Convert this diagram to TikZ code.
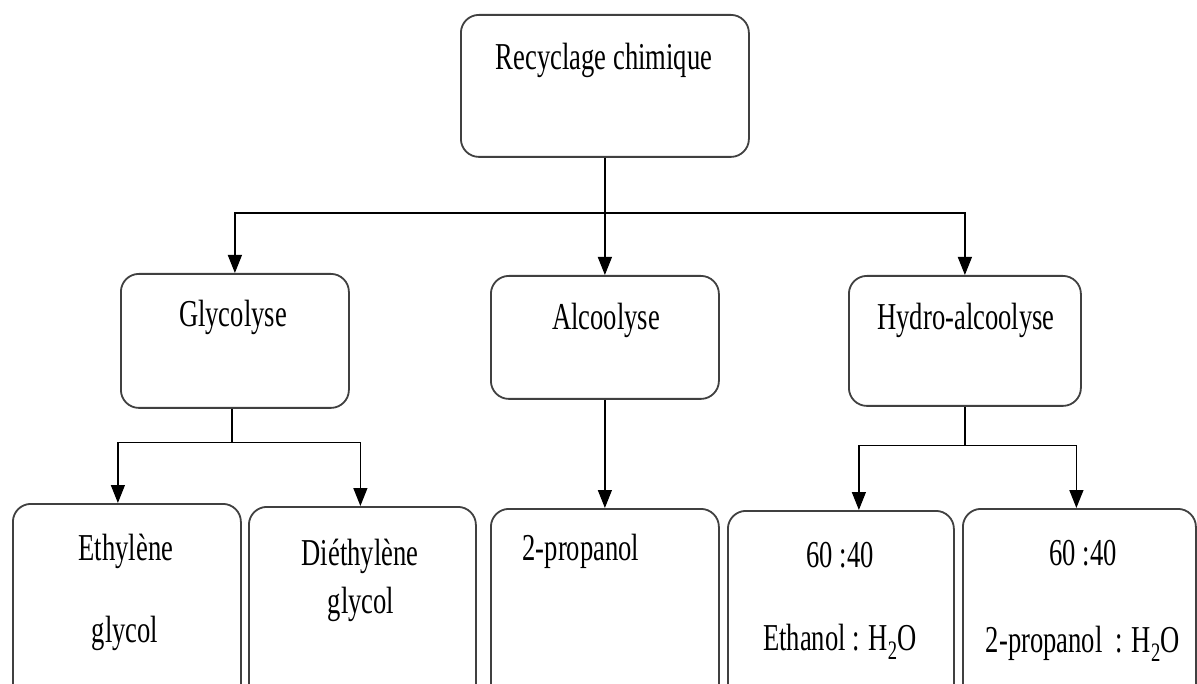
\documentclass[tikz,border=0pt]{standalone}
\usepackage{fontspec}
\setmainfont[FakeStretch=0.7]{Liberation Serif}
\usetikzlibrary{arrows.meta,calc}
\begin{document}
\begin{tikzpicture}[x=1pt,y=-1pt,
  box/.style={draw=black!75, line width=1.8pt, rounded corners=18pt, inner sep=0pt, anchor=north west},
  lbl/.style={anchor=base, inner sep=0pt, font=\fontsize{38}{45}\selectfont},
  conn/.style={line width=1.4pt, draw=black},
  arr/.style={conn, -{Triangle[length=18pt,width=14pt]}}]
\useasboundingbox (0,0) rectangle (1197,684);
\clip (0,0) rectangle (1197,684);
% boxes
\node[box, minimum width=288pt, minimum height=142pt] (top) at (460,14) {};
\node[box, minimum width=228pt, minimum height=134pt] (glyc) at (120,273) {};
\node[box, minimum width=228pt, minimum height=123pt] (alc) at (490,275) {};
\node[box, minimum width=232pt, minimum height=130pt] (hydro) at (848,275) {};
\node[box, minimum width=228pt, minimum height=220pt] (eth) at (12,503) {};
\node[box, minimum width=227pt, minimum height=220pt] (deg) at (248,506) {};
\node[box, minimum width=228pt, minimum height=220pt] (prop) at (490,508) {};
\node[box, minimum width=226pt, minimum height=220pt] (etw) at (727,510) {};
\node[box, minimum width=233pt, minimum height=220pt] (prw) at (962,508) {};
% labels
\node[lbl] (ttop) at (604,70) {Recyclage chimique};
\node[lbl] (tglyc) at (233,327) {Glycolyse};
\node[lbl] (talc) at (606,330) {Alcoolyse};
\node[lbl] (thydro) at (966,330) {Hydro-alcoolyse};
\node[lbl] (teth1) at (126,560) {Ethylène};
\node[lbl] (teth2) at (125,642) {glycol};
\node[lbl] (tdeg1) at (360,565) {Diéthylène};
\node[lbl] (tdeg2) at (361,613) {glycol};
\node[lbl] (tprop) at (581,560) {2-propanol};
\node[lbl] (tetw1) at (840,567) {60 :40};
\node[lbl] (tetw2) at (840,650) {Ethanol : H\textsubscript{2}O};
\node[lbl] (tprw1) at (1083,565) {60 :40};
\node[lbl] (tprw2) at (1083,652) {2-propanol\, : H\textsubscript{2}O};
% connectors
\coordinate (j1) at (top.south |- 0,213);
\draw[conn] (top.south) -- (j1);
\draw[arr] (j1) -| (glyc.north);
\draw[arr] (j1) -| (hydro.north);
\draw[arr] (top.south) -- (alc.north);
\coordinate (j2) at ($(glyc.south)+(-3,34)$);
\draw[conn] (glyc.south -| j2) -- (j2);
\draw[arr] (j2) -| ([xshift=-9pt]eth.north);
\draw[arr] (j2) -| ([xshift=-2pt]deg.north);
\draw[arr] (alc.south) -- (prop.north);
\coordinate (j3) at ($(hydro.south)+(0,39)$);
\draw[conn] (hydro.south) -- (j3);
\draw[arr] (j3) -| ([xshift=18pt]etw.north);
\draw[arr] (j3) -| ([xshift=-3pt]prw.north);
\end{tikzpicture}
\end{document}
